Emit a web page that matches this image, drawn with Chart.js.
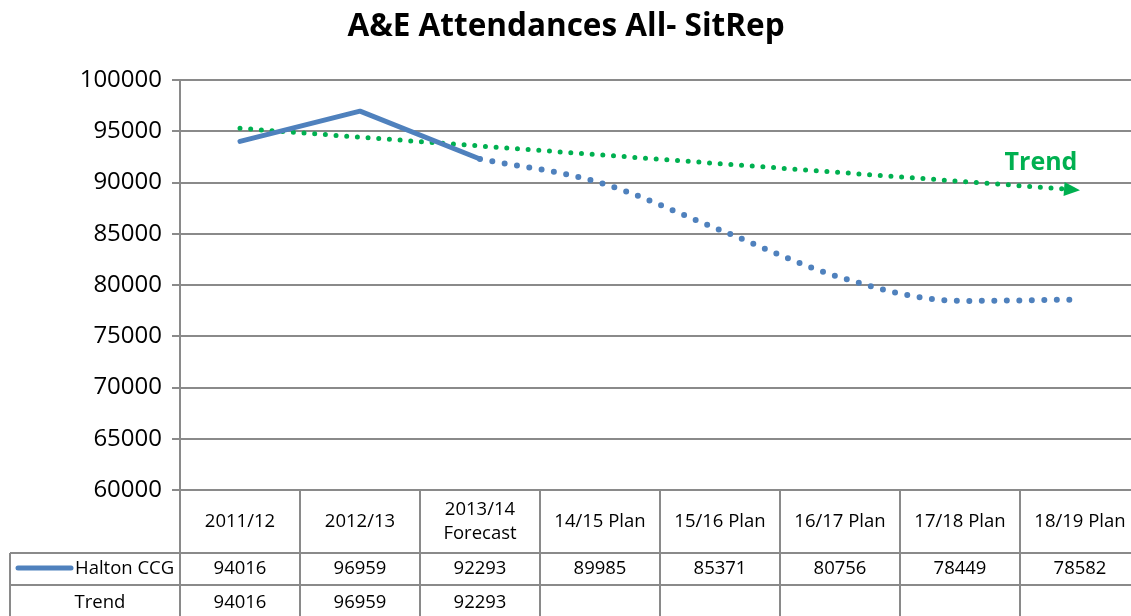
<!DOCTYPE html>
<html lang="en">
<head>
    <meta charset="UTF-8">
    <title>A&amp;E Attendances All- SitRep</title>
    <script src="https://cdn.jsdelivr.net/npm/chart.js"></script>
    <style>
        html, body { margin: 0; padding: 0; overflow: hidden; background: #fff; }
        #wrap { width: 1140px; height: 616px; position: relative; }
    </style>
</head>
<body>
    <div id="wrap">
        <canvas id="myChart" width="1140" height="616"></canvas>
    </div>

    <script>
        // Financial years (2013/14 header wraps onto two lines)
        const categories = ['2011/12', '2012/13', ['2013/14', 'Forecast'], '14/15 Plan', '15/16 Plan', '16/17 Plan', '17/18 Plan', '18/19 Plan'];
        const haltonValues = [94016, 96959, 92293, 89985, 85371, 80756, 78449, 78582];
        const actualCount = 3; // first three years are actual/forecast, the rest are plan
        const trendTableValues = [94016, 96959, 92293, null, null, null, null, null];
        // straight trend line, start and end only
        const trendLine = [95285, null, null, null, null, null, null, 89254];
        const yTicks = { min: 60000, max: 100000, step: 5000 };

        const BLUE = '#4f81bd';
        const GREEN = '#00b050';
        const GRID = '#8a8a8a';
        const FONT = "'Open Sans', 'Noto Sans', sans-serif";

        const solidPart = haltonValues.map((v, i) => i < actualCount ? v : null);
        const planPart = haltonValues.map((v, i) => i >= actualCount - 1 ? v : null);

        // title, trend arrow + label, and the data table under the plot
        const extras = {
            id: 'extras',
            afterDatasetsDraw(chart) {
                const ctx = chart.ctx;
                const meta = chart.getDatasetMeta(2);
                const pts = meta.data.filter((p, i) => trendLine[i] !== null);
                const a = pts[0], b = pts[pts.length - 1];
                const ang = Math.atan2(b.y - a.y, b.x - a.x);
                ctx.save();
                ctx.translate(b.x, b.y);
                ctx.rotate(ang);
                ctx.fillStyle = GREEN;
                ctx.beginPath();
                ctx.moveTo(0, 0);
                ctx.lineTo(-16, -7);
                ctx.lineTo(-16, 7);
                ctx.closePath();
                ctx.fill();
                ctx.restore();

                ctx.save();
                ctx.fillStyle = GREEN;
                ctx.font = 'bold 25px ' + FONT;
                ctx.textAlign = 'center';
                ctx.textBaseline = 'middle';
                ctx.fillText('Trend', b.x - 39, b.y - 27);
                ctx.restore();
            },
            afterDraw(chart) {
                const ctx = chart.ctx;
                const area = chart.chartArea;
                const x = chart.scales.x;
                const colW = (area.right - area.left) / categories.length;
                const top = area.bottom;
                const row1 = top + 63;
                const row2 = row1 + 32;
                const bottom = chart.height;
                const labelLeft = 10;

                ctx.save();
                // title
                ctx.fillStyle = '#000';
                ctx.font = 'bold 31.5px ' + FONT;
                ctx.textAlign = 'center';
                ctx.textBaseline = 'middle';
                ctx.fillText('A&E Attendances All- SitRep', 566, 27);

                // grid of the table
                ctx.strokeStyle = GRID;
                ctx.lineWidth = 2;
                ctx.beginPath();
                for (let i = 0; i <= categories.length; i++) {
                    const cx = Math.round(area.left + i * colW);
                    ctx.moveTo(cx, top);
                    ctx.lineTo(cx, bottom);
                }
                ctx.moveTo(labelLeft, row1);
                ctx.lineTo(area.right, row1);
                ctx.moveTo(labelLeft, row2);
                ctx.lineTo(area.right, row2);
                ctx.moveTo(labelLeft, row1);
                ctx.lineTo(labelLeft, bottom);
                ctx.stroke();

                // category headers
                ctx.fillStyle = '#000';
                ctx.font = '18.5px ' + FONT;
                categories.forEach((c, i) => {
                    const cx = x.getPixelForValue(i);
                    if (Array.isArray(c)) {
                        ctx.fillText(c[0], cx, (top + row1) / 2 - 12);
                        ctx.fillText(c[1], cx, (top + row1) / 2 + 12);
                    } else {
                        ctx.fillText(c, cx, (top + row1) / 2);
                    }
                });

                // Halton CCG row
                const y1 = (row1 + row2) / 2;
                haltonValues.forEach((v, i) => ctx.fillText(String(v), x.getPixelForValue(i), y1));
                ctx.textAlign = 'left';
                ctx.fillText('Halton CCG', 75, y1);
                ctx.strokeStyle = BLUE;
                ctx.lineWidth = 5;
                ctx.lineCap = 'round';
                ctx.beginPath();
                ctx.moveTo(18, y1 - 1);
                ctx.lineTo(71, y1 - 1);
                ctx.stroke();

                // Trend row
                const y2 = (row2 + bottom) / 2 + 2;
                ctx.textAlign = 'center';
                ctx.fillText('Trend', 100, y2);
                trendTableValues.forEach((v, i) => {
                    if (v !== null) ctx.fillText(String(v), x.getPixelForValue(i), y2);
                });
                ctx.restore();
            }
        };

        const ctx = document.getElementById('myChart').getContext('2d');
        new Chart(ctx, {
            type: 'line',
            data: {
                labels: categories,
                datasets: [
                    {
                        label: 'Halton CCG',
                        data: solidPart,
                        borderColor: BLUE,
                        borderWidth: 5,
                        borderCapStyle: 'round',
                        borderJoinStyle: 'round',
                        pointRadius: 0,
                        tension: 0,
                        fill: false
                    },
                    {
                        label: 'Halton CCG plan',
                        data: planPart,
                        borderColor: BLUE,
                        borderWidth: 6,
                        borderCapStyle: 'round',
                        borderDash: [0, 12.5],
                        pointRadius: 0,
                        cubicInterpolationMode: 'monotone',
                        fill: false
                    },
                    {
                        label: 'Trend',
                        data: trendLine,
                        borderColor: GREEN,
                        borderWidth: 5,
                        borderCapStyle: 'round',
                        borderDash: [0, 10.7],
                        pointRadius: 0,
                        spanGaps: true,
                        fill: false
                    }
                ]
            },
            options: {
                responsive: false,
                animation: false,
                devicePixelRatio: 1,
                layout: { padding: { top: 80, bottom: 126, left: 0, right: 0 } },
                plugins: {
                    legend: { display: false },
                    title: { display: false },
                    tooltip: { enabled: false }
                },
                scales: {
                    x: {
                        display: false,
                        offset: true
                    },
                    y: {
                        min: yTicks.min,
                        max: yTicks.max,
                        afterFit(scale) { scale.width = 180; },
                        ticks: {
                            stepSize: yTicks.step,
                            color: '#000',
                            padding: 10,
                            font: { family: FONT, size: 24 },
                            callback: (v) => String(v)
                        },
                        grid: {
                            color: GRID,
                            lineWidth: 2,
                            tickLength: 8
                        },
                        border: { color: GRID, width: 2 }
                    }
                }
            },
            plugins: [extras]
        });
    </script>
</body>
</html>
